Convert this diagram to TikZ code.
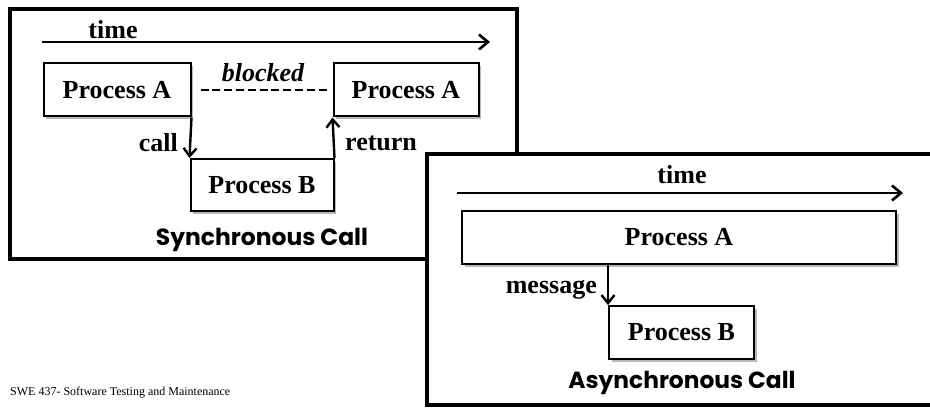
\documentclass[tikz,border=0pt]{standalone}
\usepackage{fontspec}
\setmainfont{Liberation Serif}
\newfontfamily\comicfont{Poppins}
\usetikzlibrary{arrows.meta,shadows}
\begin{document}
\begin{tikzpicture}[x=1pt,y=-1pt,
  frame/.style={line width=4pt,fill=white},
  box/.style={draw,line width=2pt,fill=white,inner sep=0pt,
    minimum width=145pt,minimum height=53pt,
    font=\fontsize{26}{30}\selectfont\bfseries,
    drop shadow={shadow xshift=2.5pt,shadow yshift=-2.5pt,fill=gray!55,opacity=1}},
  lbl/.style={inner sep=0pt,font=\fontsize{26}{30}\selectfont\bfseries},
  ttl/.style={inner sep=0pt,font=\comicfont\bfseries},
  arr/.style={line width=2.4pt,-{Straight Barb[length=8pt,width=13pt,line width=2.4pt]}},
  tarr/.style={line width=2.6pt,-{Straight Barb[length=9pt,width=15pt,line width=2.6pt]}}
]
\useasboundingbox (0,0) rectangle (930,412);
\clip (0,0) rectangle (930,412);
\fill[white] (0,0) rectangle (930,412);

% ---------- synchronous ----------
\draw[frame] (10,9) rectangle (517,259);
\coordinate (t1s) at (42,42);
\coordinate (t1e) at (490,42);
\draw[tarr] (t1s) -- (t1e);
\node[lbl] (time1) at (113,30) {time};

\node[box,minimum width=147pt] (pa1) at (117,90) {Process A};
\node[box] (pa2) at (406,90) {Process A};
\node[box,minimum width=143pt,minimum height=52pt] (pb1) at (262,185) {Process B};
\draw[line width=2.6pt,dash pattern=on 8pt off 3.8pt] ([xshift=9pt]pa1.east) -- ([xshift=-5pt]pa2.west);
\node[lbl,font=\fontsize{26}{30}\selectfont\bfseries\itshape] (blk) at (263,73) {blocked};
\draw[arr] (pa1.south east) -- (pb1.north west);
\draw[arr] (pb1.north east) -- (pa2.south west);
\node[lbl,anchor=east] (call) at (178,143) {call};
\node[lbl,anchor=west] (ret) at (345,143) {return};
\node[ttl] (sync) at (262,240) {\resizebox{212pt}{!}{Synchronous Call}};

% ---------- asynchronous ----------
\draw[frame] (427,154) rectangle (945,405);
\coordinate (t2s) at (457,193);
\coordinate (t2e) at (903,193);
\draw[tarr] (t2s) -- (t2e);
\node[lbl] (time2) at (682,175) {time};
\node[box,minimum width=434pt] (pa3) at (679,237.5) {Process A};
\node[box] (pb3) at (681.5,332.5) {Process B};
\coordinate (msgs) at (pb3.north west |- pa3.south);
\draw[arr] (msgs) -- (pb3.north west);
\node[lbl,anchor=east] (msg) at (597,290) {message};
\node[ttl] (async) at (682,383) {\resizebox{227pt}{!}{Asynchronous Call}};

% ---------- footer ----------
\node[anchor=west,inner sep=0pt,font=\fontsize{12}{14}\selectfont] (foot) at (10,393) {SWE 437- Software Testing and Maintenance};
\end{tikzpicture}
\end{document}
